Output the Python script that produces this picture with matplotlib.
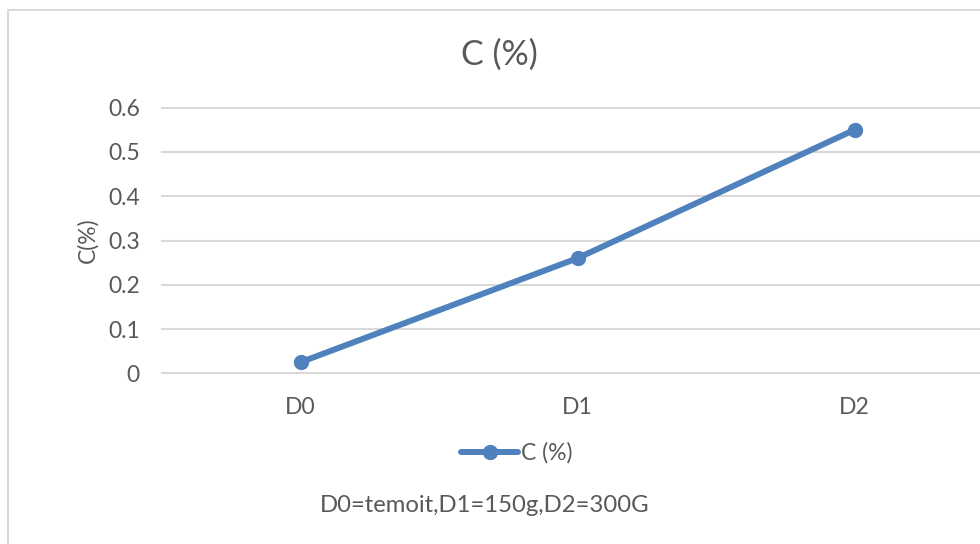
import matplotlib
matplotlib.use("Agg")
import matplotlib.pyplot as plt
from matplotlib.lines import Line2D
from matplotlib.patches import Rectangle

categories = ["D0", "D1", "D2"]
c_values = [0.025, 0.26, 0.55]
y_ticks = [0, 0.1, 0.2, 0.3, 0.4, 0.5, 0.6]
y_tick_labels = ["0", "0.1", "0.2", "0.3", "0.4", "0.5", "0.6"]
series_name = "C (%)"
title_text = "C (%)"
y_label = "C(%)"
note_text = "D0=temoit,D1=150g,D2=300G"

plt.rcParams["font.family"] = ["Lato", "DejaVu Sans"]
text_color = "#595959"
line_color = "#4F81BD"
grid_color = "#D9D9D9"
fs = 16.5

W, H = 980, 544
fig = plt.figure(figsize=(W / 100, H / 100), dpi=100)

# chart frame (right and bottom edges run off the canvas)
fig.patches.append(Rectangle((8 / W, -0.1), 2.0, 1 - 10 / H + 0.1,
                             transform=fig.transFigure, fill=False,
                             edgecolor=grid_color, linewidth=1.5, zorder=0))

# plot area in pixel coordinates
left, right = 162, 993
y0_px, y6_px = 373.3, 107.7
ax = fig.add_axes([left / W, 1 - y0_px / H, (right - left) / W, (y0_px - y6_px) / H])
ax.set_xlim(-0.5, len(categories) - 0.5)
ax.set_ylim(0, 0.6)

for s in ax.spines.values():
    s.set_visible(False)
ax.set_yticks(y_ticks)
ax.set_yticklabels(y_tick_labels)
ax.set_xticks(range(len(categories)))
ax.set_xticklabels(categories)
ax.tick_params(axis="both", length=0, labelsize=fs, colors=text_color)
ax.tick_params(axis="y", pad=16)
ax.tick_params(axis="x", pad=17)
for t in y_ticks:
    ax.axhline(t, color=grid_color, linewidth=1.5, zorder=1, clip_on=False)

ax.plot(range(len(categories)), c_values, color=line_color, linewidth=4.3,
        marker="o", markersize=10, solid_capstyle="round", zorder=3, clip_on=False)

fig.text(88 / W, 1 - 240 / H, y_label, rotation=90, ha="center", va="center",
         fontsize=fs, color=text_color)

fig.text(499 / W, 1 - 55 / H, title_text, ha="center", va="center",
         fontsize=24.5, color=text_color)

# legend entry
leg_handle = Line2D([], [], color=line_color, linewidth=4.3, marker="o",
                    markersize=10, solid_capstyle="round")
fig.legend([leg_handle], [series_name], loc="center",
           bbox_to_anchor=(517 / W, 1 - 453 / H), frameon=False, fontsize=fs,
           labelcolor=text_color, handlelength=2.45, handletextpad=0.15)

fig.text(485 / W, 1 - 506 / H, note_text, ha="center", va="center",
         fontsize=17.2, color=text_color)

fig.savefig("out.png", dpi=100)
